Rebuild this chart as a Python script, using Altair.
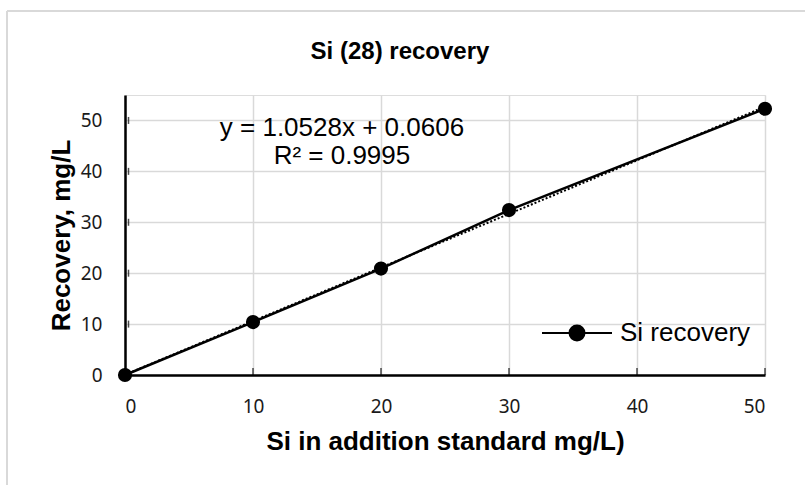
import altair as alt
import pandas as pd

# Data
added = [0, 10, 20, 30, 50]
recovered = [0.0, 10.4, 20.9, 32.4, 52.3]
slope = 1.0528
intercept = 0.0606
eq_lines = ["y = 1.0528x + 0.0606", "R² = 0.9995"]
eq_x = [16.95, 16.95]
eq_y = [48.6, 43.1]
x_ticks = [0, 10, 20, 30, 40, 50]
y_ticks = [0, 10, 20, 30, 40, 50]

df = pd.DataFrame({"x": added, "y": recovered, "series": ["Si recovery"] * len(added)})
trend = pd.DataFrame({"x": [0, 50], "y": [intercept, slope * 50 + intercept]})
eq = pd.DataFrame({"x": eq_x, "y": eq_y, "t": eq_lines})
ticks_df = pd.DataFrame({"x": x_ticks, "y": [0] * len(x_ticks)})
ticks_y = pd.DataFrame({"x": [0] * len(y_ticks), "y": y_ticks})

FONT_T = "Liberation Sans"
FONT_N = "Noto Sans"

xs = alt.Scale(domain=[0, 50], nice=False, zero=False)
ys = alt.Scale(domain=[0, 55], nice=False, zero=False)

xaxis = alt.Axis(values=x_ticks, title="Si in addition standard mg/L)", grid=True,
                 gridColor="#d9d9d9", gridWidth=1.5, domainColor="black", domainWidth=2.5,
                 ticks=False, labelPadding=22, labelFont=FONT_N, labelFontSize=19,
                 labelColor="#1a1a1a", titleFont=FONT_T, titleFontSize=26, titleFontWeight="bold",
                 titlePadding=12, titleColor="black")
yaxis = alt.Axis(values=y_ticks, title="Recovery, mg/L", grid=True,
                 gridColor="#d9d9d9", gridWidth=1.5, domainColor="black", domainWidth=2.5,
                 ticks=False, labelPadding=23, labelFont=FONT_N, labelFontSize=19,
                 labelColor="#1a1a1a", titleFont=FONT_T, titleFontSize=26, titleFontWeight="bold",
                 titlePadding=6, titleColor="black")

base = alt.Chart(df)

trend_line = alt.Chart(trend).mark_line(color="black", strokeWidth=2, strokeDash=[2, 2]).encode(
    x=alt.X("x:Q", scale=xs, axis=xaxis), y=alt.Y("y:Q", scale=ys, axis=yaxis))

legend_symbol = "M-1,0H1M0.214,0A0.214,0.214 0 1,1 -0.214,0A0.214,0.214 0 1,1 0.214,0Z"

series_line = base.mark_line(strokeWidth=2.5, clip=False).encode(
    x=alt.X("x:Q", scale=xs), y=alt.Y("y:Q", scale=ys),
    color=alt.Color("series:N", scale=alt.Scale(range=["black"]),
                    legend=alt.Legend(title=None, orient="none", legendX=416, legendY=202,
                                      symbolType=legend_symbol, symbolSize=4900,
                                      symbolStrokeWidth=2, symbolFillColor="black",
                                      symbolStrokeColor="black", labelFont=FONT_T,
                                      labelFontSize=26, labelColor="black", labelOffset=7)))
series_pts = base.mark_point(filled=True, size=200, opacity=1, clip=False).encode(
    x=alt.X("x:Q", scale=xs), y=alt.Y("y:Q", scale=ys), color=alt.value("black"))

in_ticks_x = alt.Chart(ticks_df).mark_tick(color="black", thickness=1.5, size=7, yOffset=-3.5).encode(
    x=alt.X("x:Q", scale=xs), y=alt.Y("y:Q", scale=ys))
in_ticks_y = alt.Chart(ticks_y).mark_tick(color="black", thickness=1.5, size=7, xOffset=3.5).encode(
    x=alt.X("x:Q", scale=xs), y=alt.Y("y:Q", scale=ys))

eq_text = alt.Chart(eq).mark_text(align="center", baseline="middle", font=FONT_T, fontSize=26,
                                  color="black").encode(
    x=alt.X("x:Q", scale=xs), y=alt.Y("y:Q", scale=ys), text="t:N")

frame = alt.Chart(df).mark_rule(color="#d9d9d9", strokeWidth=2).encode(
    x=alt.value(-118), y=alt.value(-84), y2=alt.value(400))
frame_top = alt.Chart(df).mark_rule(color="#d9d9d9", strokeWidth=2).encode(
    x=alt.value(-118), x2=alt.value(700), y=alt.value(-84))

chart = alt.layer(frame, frame_top, trend_line, series_line, series_pts, in_ticks_x, in_ticks_y, eq_text).properties(
    width=640, height=280,
    title=alt.TitleParams("Si (28) recovery", font=FONT_T, fontSize=24, fontWeight="bold",
                          color="black", anchor="middle", frame="group", dx=-45, dy=108, offset=30,
                          baseline="bottom"),
    padding={"left": 125, "top": 95, "right": 40, "bottom": 110},
    autosize=alt.AutoSizeParams(type="none"),
).configure_view(stroke=None).configure(background="white")

chart.save("out.html", embed_options={"renderer": "svg", "actions": False})
